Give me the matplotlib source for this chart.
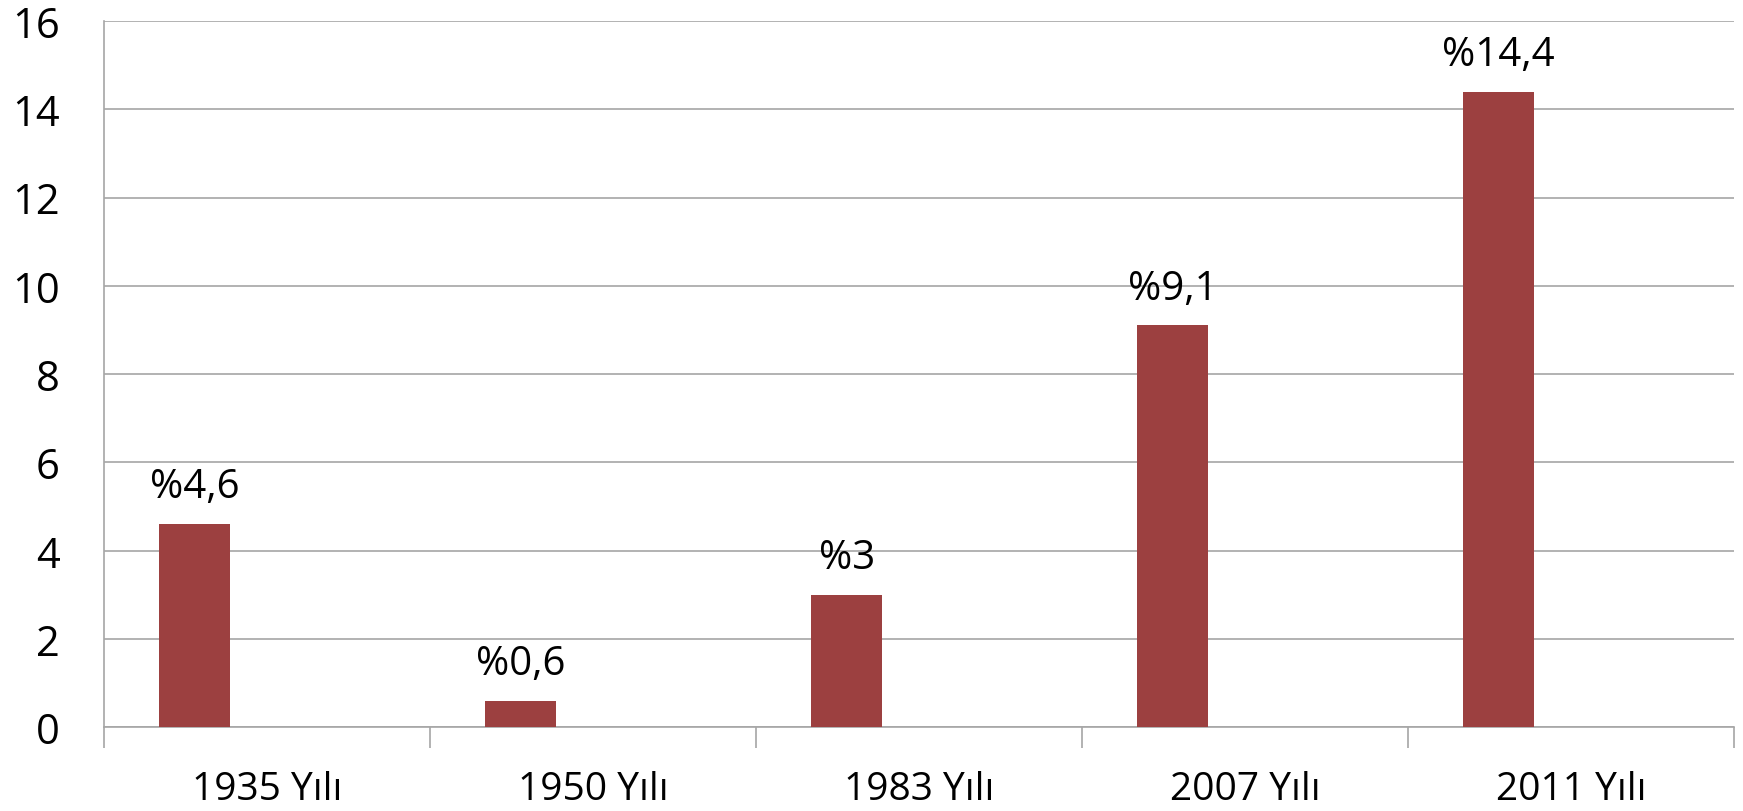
import matplotlib
matplotlib.use("Agg")
import matplotlib.pyplot as plt
import numpy as np

# --- data ---
categories = ["1935 Yılı", "1950 Yılı", "1983 Yılı", "2007 Yılı", "2011 Yılı"]
values = [4.6, 0.6, 3.0, 9.1, 14.4]
value_labels = ["%4,6", "%0,6", "%3", "%9,1", "%14,4"]
yticks = [0, 2, 4, 6, 8, 10, 12, 14, 16]

plt.rcParams['font.family'] = ['Open Sans', 'DejaVu Sans']

fig = plt.figure(figsize=(17.43, 8.12), dpi=100)
ax = fig.add_axes([104 / 1743, 1 - 728 / 812, (1734 - 104) / 1743, (728 - 22) / 812])

bar_color = '#9C4040'
grid_color = '#A6A6A6'

x = np.arange(len(categories))
bar_pos = x + 0.278
ax.bar(bar_pos, values, width=0.218, color=bar_color, zorder=3)

for xp, v, lab in zip(bar_pos, values, value_labels):
    ax.annotate(lab, (xp, v), xytext=(0, 12), textcoords='offset points',
                ha='center', va='bottom', fontsize=29, color='black')

ax.set_xlim(0, len(categories))
ax.set_ylim(0, 16)
ax.set_yticks(yticks)
ax.set_yticklabels([str(t) for t in yticks], fontsize=30)
ax.tick_params(axis='y', length=0, pad=32)

# category labels centered in each slot, tick marks at slot boundaries
ax.set_xticks(x + 0.5)
ax.set_xticklabels(categories, fontsize=28)
ax.tick_params(axis='x', which='major', length=0, pad=31)
ax.set_xticks(np.arange(len(categories) + 1), minor=True)
ax.tick_params(axis='x', which='minor', length=15, width=1.2, color=grid_color)

ax.yaxis.grid(True, color=grid_color, linewidth=1.2, zorder=0)
ax.set_axisbelow(True)
for side in ['top', 'right']:
    ax.spines[side].set_visible(False)
ax.spines['left'].set_color(grid_color)
ax.spines['bottom'].set_color(grid_color)
ax.spines['left'].set_linewidth(1.2)
ax.spines['bottom'].set_linewidth(1.2)

fig.savefig('out.png', dpi=100)
